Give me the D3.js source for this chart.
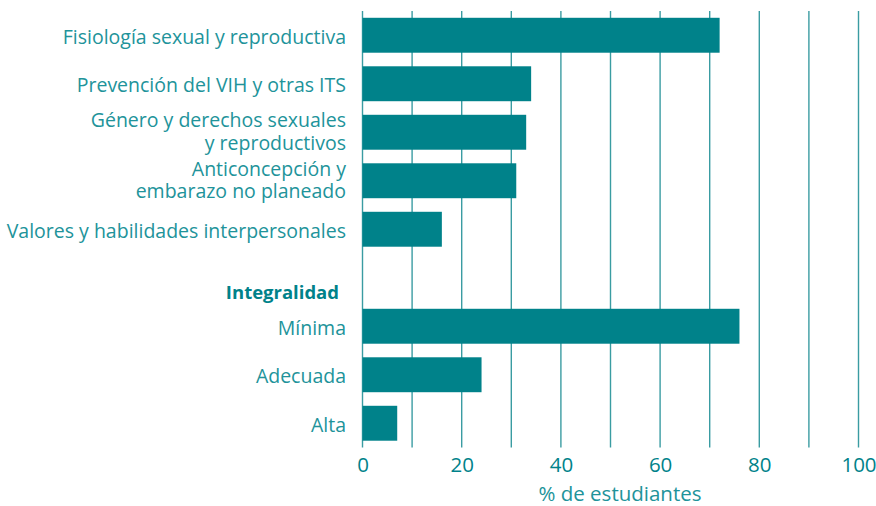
<!DOCTYPE html>
<html>
<head>
<meta charset="utf-8">
<script src="https://cdn.jsdelivr.net/npm/d3@7"></script>
<style>
  body { margin: 0; background: #fff; }
  svg { display: block; font-family: "Open Sans", sans-serif; }
</style>
</head>
<body>
<div id="chart"></div>
<script>
const width = 876, height = 506;

// topics covered (single bars)
const topics = [
  ["Fisiología sexual y reproductiva"],
  ["Prevención del VIH y otras ITS"],
  ["Género y derechos sexuales", "y reproductivos"],
  ["Anticoncepción y", "embarazo no planeado"],
  ["Valores y habilidades interpersonales"]
];
const topicValues = [72, 34, 33, 31, 16];

const groupTitle = "Integralidad";
const levels = ["Mínima", "Adecuada", "Alta"];
const levelValues = [76, 24, 7];

const xTicks = [0, 20, 40, 60, 80, 100];
const gridTicks = [0, 10, 20, 30, 40, 50, 60, 70, 80, 90, 100];
const xTitle = "% de estudiantes";

const teal = "#00828a";
const textTeal = "#21939a";
const gridColor = "#3a9ca2";

// rows: 5 topics, a header row, then 3 levels
const rows = topics.map((t, i) => ({ key: "t" + i, lines: t, value: topicValues[i] }))
  .concat([{ key: "header", lines: [groupTitle], header: true }])
  .concat(levels.map((l, i) => ({ key: "l" + i, lines: [l], value: levelValues[i] })));

const x = d3.scaleLinear().domain([0, 100]).range([362.5, 858.5]);
const y = d3.scaleBand().domain(rows.map(d => d.key)).range([11, 447.5])
  .paddingInner(0.28).paddingOuter(0.14);

const svg = d3.select("#chart").append("svg")
  .attr("width", width)
  .attr("height", height);

// vertical grid
svg.append("g")
  .selectAll("line")
  .data(gridTicks)
  .join("line")
  .attr("x1", d => x(d)).attr("x2", d => x(d))
  .attr("y1", y.range()[0]).attr("y2", y.range()[1])
  .attr("stroke", gridColor)
  .attr("stroke-width", 1.4);

const bars = rows.filter(d => !d.header);

svg.append("g")
  .selectAll("rect")
  .data(bars)
  .join("rect")
  .attr("x", x(0))
  .attr("y", d => y(d.key))
  .attr("width", d => x(d.value) - x(0))
  .attr("height", y.bandwidth())
  .attr("fill", teal);

// category labels
const labels = svg.append("g")
  .attr("text-anchor", "end")
  .attr("fill", textTeal)
  .style("font-size", "19.5px");

labels.selectAll("text")
  .data(bars)
  .join("text")
  .attr("x", 346)
  .attr("y", d => y(d.key) + y.bandwidth() / 2)
  .each(function (d) {
    const t = d3.select(this);
    const n = d.lines.length;
    d.lines.forEach((line, i) => {
      t.append("tspan")
        .attr("x", 346)
        .attr("dy", i === 0 ? (n === 1 ? 8.5 : -5) : 22.5)
        .text(line);
    });
  });

// group header
const hdr = rows.find(d => d.header);
svg.append("text")
  .attr("x", 339)
  .attr("y", y(hdr.key) + y.bandwidth() + 4)
  .attr("text-anchor", "end")
  .attr("fill", teal)
  .style("font-size", "18.5px")
  .style("font-weight", "bold")
  .text(hdr.lines[0]);

// x axis labels
const xAxis = svg.append("g")
  .attr("transform", `translate(0,${y.range()[1]})`)
  .call(d3.axisBottom(x).tickValues(xTicks).tickSize(0).tickPadding(10).tickFormat(d3.format("d")));
xAxis.select(".domain").remove();
xAxis.selectAll("text")
  .attr("fill", teal)
  .style("font-family", "Open Sans, sans-serif")
  .style("font-size", "20.5px");

svg.append("text")
  .attr("x", 620)
  .attr("y", 501)
  .attr("text-anchor", "middle")
  .attr("fill", textTeal)
  .style("font-size", "20.5px")
  .text(xTitle);
</script>
</body>
</html>
